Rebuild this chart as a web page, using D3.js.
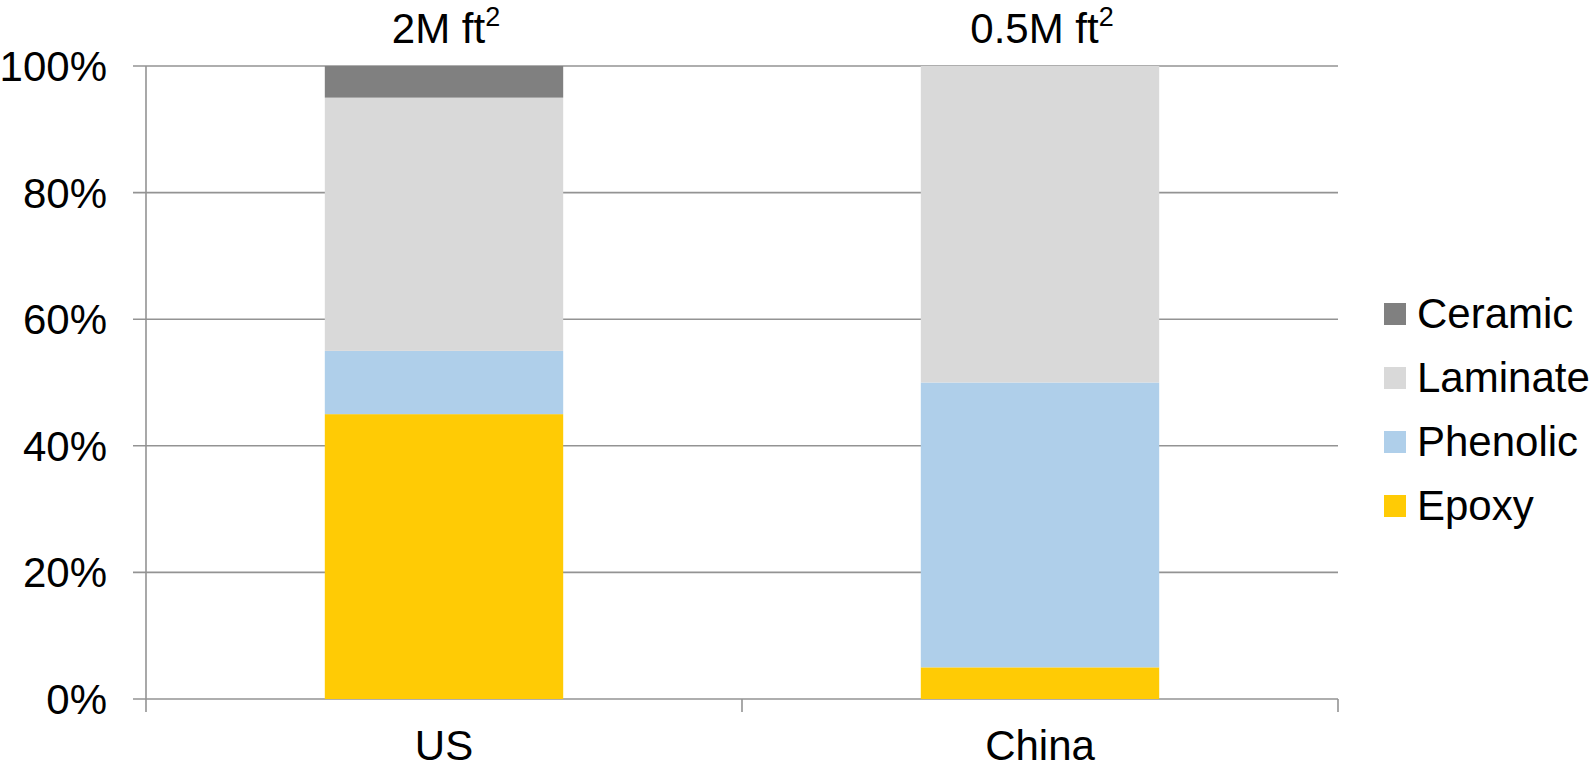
<!DOCTYPE html>
<html>
<head>
<meta charset="utf-8">
<script src="https://cdn.jsdelivr.net/npm/d3@7"></script>
<style>
  html, body { margin: 0; padding: 0; background: #ffffff; }
  svg { display: block; font-family: "Liberation Sans", Arial, sans-serif; }
</style>
</head>
<body>
<svg id="chart" width="1591" height="770"></svg>
<script>
// ---- data ----
const categories = ["US", "China"];
const topLabels = ["2M ft", "0.5M ft"];
const seriesNames = ["Epoxy", "Phenolic", "Laminate", "Ceramic"];
const epoxy    = [45, 5];
const phenolic = [10, 45];
const laminate = [40, 50];
const ceramic  = [5, 0];
const yTicks = [0, 20, 40, 60, 80, 100];
const colors = ["#ffcb05", "#afcfea", "#d9d9d9", "#808080"];

(function () {
const seriesValues = [epoxy, phenolic, laminate, ceramic];
const rows = categories.map((c, i) => {
  const r = { cat: c };
  seriesNames.forEach((s, j) => r[s] = seriesValues[j][i] / 100);
  return r;
});

const svg = d3.select("#chart");
const pLeft = 146, pRight = 1338, pTop = 66, pBottom = 699;
const fontSize = 42;
const gridColor = "#939393";

const x = d3.scaleBand().domain(categories).range([pLeft, pRight]).paddingInner(0.6).paddingOuter(0.3);
const y = d3.scaleLinear().domain([0, 1]).range([pBottom, pTop]);

// gridlines
svg.append("g")
  .selectAll("line")
  .data(yTicks)
  .join("line")
  .attr("x1", pLeft - 13).attr("x2", pRight)
  .attr("y1", d => y(d / 100)).attr("y2", d => y(d / 100))
  .attr("stroke", gridColor).attr("stroke-width", 1.6);

// y axis line
svg.append("line")
  .attr("x1", pLeft).attr("x2", pLeft).attr("y1", pTop).attr("y2", pBottom + 13)
  .attr("stroke", gridColor).attr("stroke-width", 1.6);

// category boundary ticks
const r = x.range();
const bounds = d3.range(1, categories.length + 1).map(i => r[0] + i * (r[1] - r[0]) / categories.length);
svg.append("g")
  .selectAll("line")
  .data(bounds)
  .join("line")
  .attr("x1", d => d).attr("x2", d => d)
  .attr("y1", pBottom).attr("y2", pBottom + 13)
  .attr("stroke", gridColor).attr("stroke-width", 1.6);

// stacked bars
const stacked = d3.stack().keys(seriesNames)(rows);
svg.append("g")
  .selectAll("g")
  .data(stacked)
  .join("g")
  .attr("fill", (d, i) => colors[i])
  .selectAll("rect")
  .data(d => d)
  .join("rect")
  .attr("x", d => x(d.data.cat))
  .attr("width", x.bandwidth())
  .attr("y", d => y(d[1]))
  .attr("height", d => Math.max(0, y(d[0]) - y(d[1])));

// y tick labels
svg.append("g")
  .selectAll("text")
  .data(yTicks)
  .join("text")
  .attr("x", 107)
  .attr("y", d => y(d / 100) + 15)
  .attr("text-anchor", "end")
  .attr("font-size", fontSize)
  .attr("fill", "#000")
  .text(d => d + "%");

// category labels
svg.append("g")
  .selectAll("text")
  .data(categories)
  .join("text")
  .attr("x", d => x(d) + x.bandwidth() / 2)
  .attr("y", 760)
  .attr("text-anchor", "middle")
  .attr("font-size", fontSize)
  .attr("fill", "#000")
  .text(d => d);

// top labels with superscript
const tl = svg.append("g")
  .selectAll("text")
  .data(categories)
  .join("text")
  .attr("x", d => x(d) + x.bandwidth() / 2 + 2)
  .attr("y", 43)
  .attr("text-anchor", "middle")
  .attr("font-size", fontSize)
  .attr("fill", "#000");
tl.append("tspan").text((d, i) => topLabels[i]);
tl.append("tspan").attr("font-size", 27).attr("dy", -17).text("2");

// legend (reverse order: Ceramic on top)
const legendOrder = seriesNames.map((s, i) => ({ name: s, color: colors[i] })).reverse();
const lg = svg.append("g")
  .selectAll("g")
  .data(legendOrder)
  .join("g")
  .attr("transform", (d, i) => `translate(1384, ${314 + i * 64})`);
lg.append("rect")
  .attr("x", 0).attr("y", -11).attr("width", 22).attr("height", 22)
  .attr("fill", d => d.color);
lg.append("text")
  .attr("x", 33).attr("y", 14)
  .attr("font-size", fontSize)
  .attr("fill", "#000")
  .text(d => d.name);
})();
</script>
</body>
</html>
